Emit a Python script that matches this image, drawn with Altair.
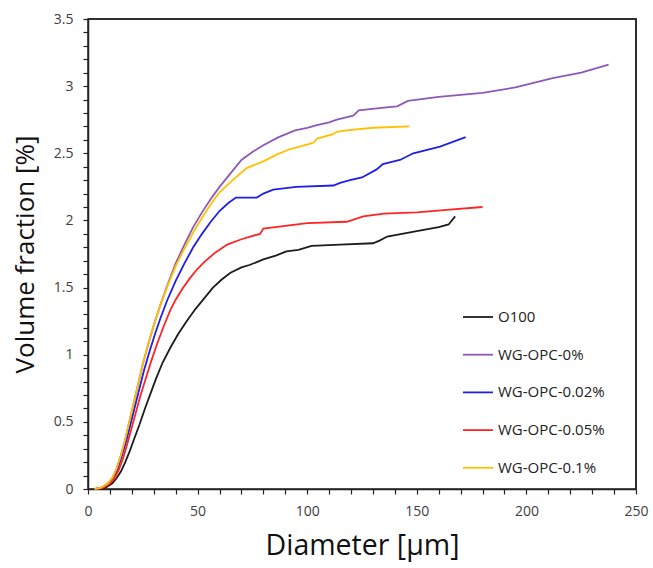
import altair as alt
import pandas as pd

series_names = ["O100", "WG-OPC-0%", "WG-OPC-0.02%", "WG-OPC-0.05%", "WG-OPC-0.1%"]
series_colors = ["#1c1c1c", "#8d58b8", "#2020e0", "#ff2424", "#ffc000"]

o100_x = [5, 8, 11, 13, 15, 17, 19, 21, 23.5, 26, 28.5, 31, 34, 37.5, 41, 45, 49, 53, 57, 61, 65, 70, 74, 80, 86, 90.5, 96, 102, 115, 130, 133, 136.5, 150, 160, 164.5, 167.5]
o100_y = [0, 0.01, 0.04, 0.08, 0.13, 0.20, 0.28, 0.37, 0.48, 0.60, 0.71, 0.82, 0.94, 1.05, 1.15, 1.25, 1.34, 1.42, 1.50, 1.56, 1.61, 1.65, 1.67, 1.71, 1.74, 1.77, 1.78, 1.81, 1.82, 1.83, 1.85, 1.88, 1.92, 1.95, 1.97, 2.03]

wg0_x = [3, 6, 9, 11, 13, 15, 17, 19, 21, 23, 25, 27.5, 30, 33, 36.5, 40, 44, 48, 52, 56, 60, 65, 70, 75, 80, 87, 94.5, 100, 104.5, 110, 113.5, 121, 123.5, 135, 141, 146, 160, 180, 195, 212, 225, 237.5]
wg0_y = [0, 0.01, 0.04, 0.08, 0.15, 0.25, 0.37, 0.51, 0.65, 0.79, 0.93, 1.08, 1.22, 1.37, 1.53, 1.68, 1.82, 1.95, 2.06, 2.16, 2.25, 2.35, 2.45, 2.51, 2.56, 2.62, 2.67, 2.69, 2.71, 2.73, 2.75, 2.78, 2.82, 2.84, 2.85, 2.89, 2.92, 2.95, 2.99, 3.06, 3.10, 3.16]

wg002_x = [3.5, 6.5, 9.5, 11.5, 13.5, 15.5, 17.5, 19.5, 21.5, 23.5, 25.5, 28, 30.5, 33, 36, 40, 44, 48, 52, 56, 60, 64, 67.5, 77, 80, 84.5, 95, 112, 115, 119.5, 125, 131.7, 134.5, 142.3, 148.4, 160.6, 172.3]
wg002_y = [0, 0.01, 0.04, 0.08, 0.15, 0.25, 0.36, 0.49, 0.62, 0.75, 0.88, 1.02, 1.15, 1.27, 1.40, 1.55, 1.68, 1.80, 1.90, 1.99, 2.07, 2.13, 2.17, 2.17, 2.20, 2.23, 2.25, 2.26, 2.28, 2.30, 2.32, 2.38, 2.42, 2.45, 2.50, 2.55, 2.62]

wg005_x = [4, 7, 10, 12, 14, 16, 18, 20, 22, 24, 26.5, 29, 31.5, 34.5, 37.5, 40, 43, 46.5, 50, 53, 58, 63.5, 70, 74, 78.5, 80, 90, 100, 118, 125.6, 135, 150, 165, 180]
wg005_y = [0, 0.01, 0.04, 0.08, 0.14, 0.23, 0.34, 0.46, 0.58, 0.70, 0.83, 0.96, 1.08, 1.21, 1.33, 1.41, 1.49, 1.57, 1.64, 1.69, 1.76, 1.82, 1.86, 1.88, 1.90, 1.94, 1.96, 1.98, 1.99, 2.03, 2.05, 2.06, 2.08, 2.10]

wg01_x = [3, 6, 9, 11, 13, 15, 17, 19, 21, 23, 25, 27.5, 30, 33, 36.5, 40, 44, 48, 52, 56, 60, 66, 72.4, 80, 86, 92, 101, 103, 104.5, 111.5, 113.5, 118, 130, 146.6]
wg01_y = [0, 0.01, 0.04, 0.08, 0.15, 0.25, 0.37, 0.51, 0.65, 0.79, 0.93, 1.08, 1.22, 1.37, 1.52, 1.66, 1.79, 1.91, 2.02, 2.12, 2.21, 2.30, 2.39, 2.44, 2.49, 2.53, 2.57, 2.58, 2.61, 2.64, 2.66, 2.67, 2.69, 2.70]

x_domain = [0, 250]
y_domain = [0, 3.5]
x_ticks = list(range(0, 251, 10))
y_ticks = [round(i * 0.1, 1) for i in range(0, 36)]

all_x = [o100_x, wg0_x, wg002_x, wg005_x, wg01_x]
all_y = [o100_y, wg0_y, wg002_y, wg005_y, wg01_y]

rows = []
for name, xs, ys in zip(series_names, all_x, all_y):
    for xv, yv in zip(xs, ys):
        rows.append({"series": name, "d": xv, "v": yv})
df = pd.DataFrame(rows)

# top and right edges of the frame: corner points taken from the axis domains
frame_df = pd.DataFrame({
    "fx": [x_domain[0], x_domain[1], x_domain[1]],
    "fy": [y_domain[1], y_domain[1], y_domain[0]],
    "k": [0, 1, 2],
})

FONT = "Open Sans"

xscale = alt.Scale(domain=x_domain, nice=False)
yscale = alt.Scale(domain=y_domain, nice=False)

x_axis = alt.Axis(title="Diameter [µm]", values=x_ticks,
                  labelExpr="datum.value % 50 == 0 ? toString(datum.value) : ''",
                  grid=False, tickSize=5, tickColor="#222", domainColor="#222",
                  domainWidth=1.5, tickWidth=1.2, labelPadding=10, labelFlush=False,
                  labelFontSize=14, labelColor="#404040", labelFont=FONT,
                  titleFont=FONT, titleFontSize=28.5, titleFontWeight="normal",
                  titleColor="#111", titlePadding=13)
y_axis = alt.Axis(title="Volume fraction [%]", values=y_ticks,
                  labelExpr="round(datum.value*10) % 5 == 0 ? toString(round(datum.value*10)/10) : ''",
                  grid=False, tickSize=5, tickColor="#222", domainColor="#222",
                  domainWidth=1.5, tickWidth=1.2, labelPadding=10, labelFlush=False,
                  labelFontSize=14, labelColor="#404040", labelFont=FONT,
                  titleFont=FONT, titleFontSize=26, titleFontWeight="normal",
                  titleColor="#111", titlePadding=15)

lines = alt.Chart(df).mark_line(strokeWidth=1.8).encode(
    x=alt.X("d:Q", scale=xscale, axis=x_axis),
    y=alt.Y("v:Q", scale=yscale, axis=y_axis),
    color=alt.Color("series:N",
                    scale=alt.Scale(domain=series_names, range=series_colors),
                    legend=alt.Legend(title=None, orient="none", legendX=374, legendY=282,
                                      symbolType="stroke", symbolSize=900,
                                      symbolStrokeWidth=1.8, labelFont=FONT,
                                      labelFontSize=15, labelColor="#222",
                                      rowPadding=13.7, labelOffset=4)),
)

frame = alt.Chart(frame_df).mark_line(color="#222", strokeWidth=1.5).encode(
    x=alt.X("fx:Q", scale=xscale, axis=x_axis),
    y=alt.Y("fy:Q", scale=yscale, axis=y_axis),
    order=alt.Order("k:Q"),
)

chart = alt.layer(lines, frame).properties(
    width=548, height=470,
    background="white",
    autosize=alt.AutoSizeParams(type="none"),
    padding={"left": 88, "top": 19, "right": 17, "bottom": 79},
).configure_view(stroke="#222", strokeWidth=1.5)

chart.save("out.html", embed_options={"renderer": "svg", "actions": False})
